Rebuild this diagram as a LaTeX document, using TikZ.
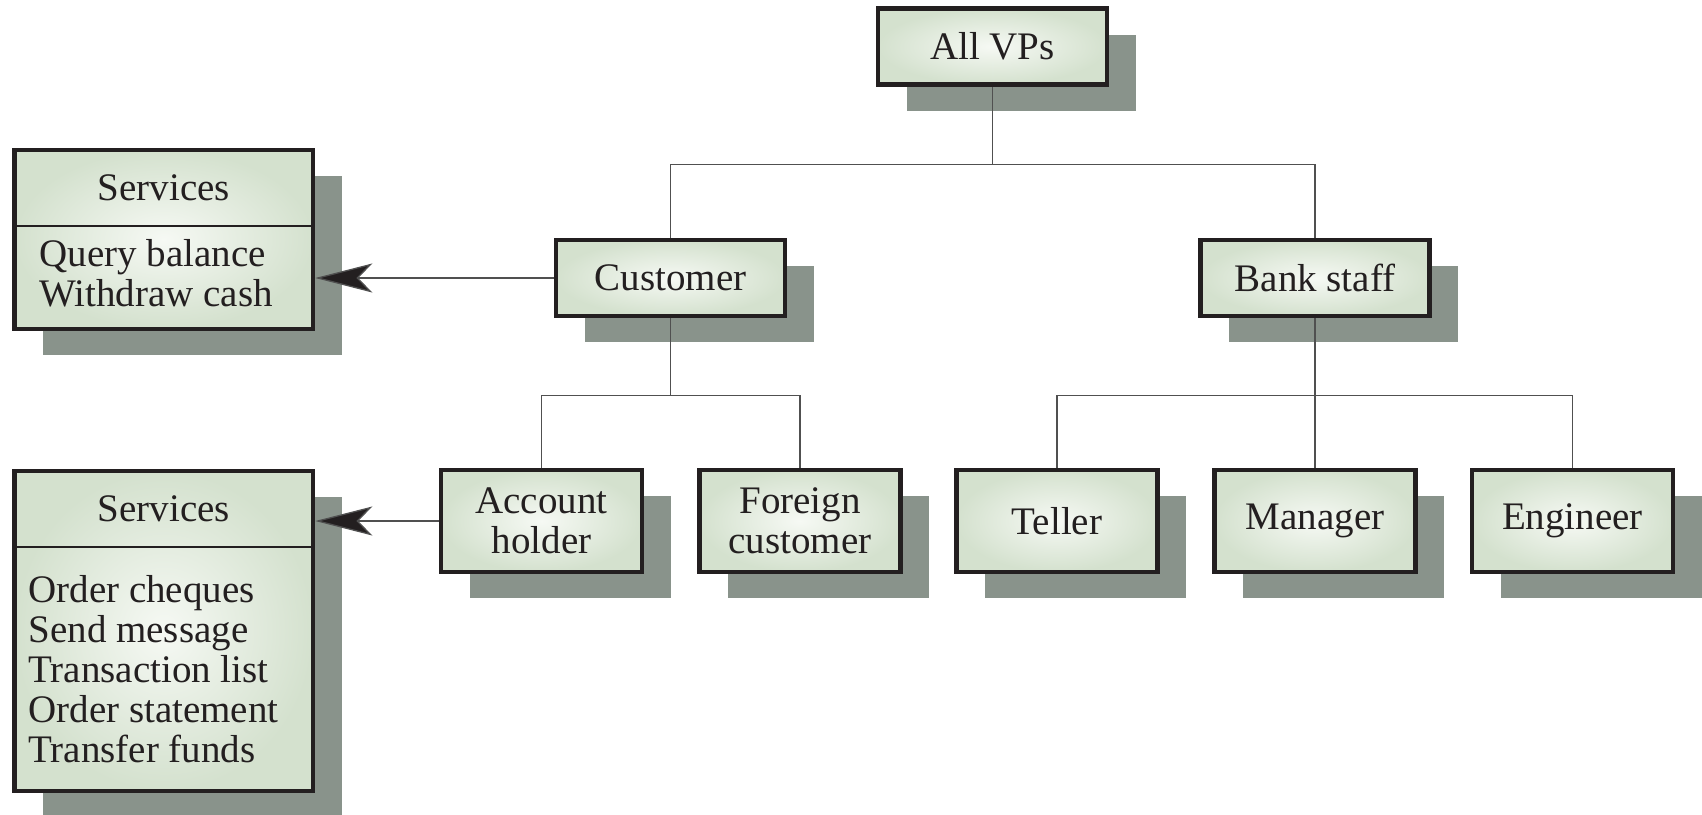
\documentclass[tikz,border=0pt]{standalone}
\usepackage{fontspec}
\setmainfont{Liberation Serif}
\usetikzlibrary{shapes.multipart,shadows,arrows.meta}
\definecolor{boxedge}{RGB}{35,31,32}
\definecolor{boxfill}{RGB}{212,225,206}
\definecolor{boxglow}{RGB}{246,249,244}
\definecolor{shadowgrey}{RGB}{137,147,139}
\definecolor{wire}{RGB}{80,80,80}

\begin{document}
\begin{tikzpicture}[x=1pt,y=-1pt,
  every node/.style={font=\fontsize{39}{40}\selectfont, text=boxedge},
  vp/.style={rectangle, draw=boxedge, line width=4.5pt, inner color=boxglow, outer color=boxfill,
    drop shadow={shadow xshift=28.5pt, shadow yshift=-26pt, fill=shadowgrey, opacity=1}},
  vpwide/.style={vp, align=center, minimum width=229pt, minimum height=76pt},
  vpleaf/.style={vp, align=center, minimum width=201pt, minimum height=102pt},
  svcbox/.style={vp, rectangle split, rectangle split parts=2, rectangle split draw splits=false,
    inner sep=0pt, anchor=north west},
  link/.style={draw=wire, line width=1.3pt},
  svcarrow/.style={link, -{Stealth[length=57pt, width=29pt, inset=14pt, fill=boxedge]}}]
\useasboundingbox (0,0) rectangle (1702,814);

% view points
\node[vpwide] (allvps) at (992.5,46.5) {All VPs};
\node[vpwide] (customer) at (670.5,278) {Customer};
\node[vpwide] (bankstaff) at (1315,278) {Bank staff};
\node[vpleaf] (acct) at (541.5,521) {Account\\holder};
\node[vpleaf] (foreign) at (800,521) {Foreign\\customer};
\node[vpleaf] (teller) at (1057,521) {Teller};
\node[vpleaf] (manager) at (1315,521) {Manager};
\node[vpleaf] (engineer) at (1572.5,521) {Engineer};

% service lists
\node[svcbox] (svca) at (12.25,147.5)
  {\parbox[c][71.5pt][c]{298.5pt}{\centering Services}%
   \nodepart{two}\parbox[c][98.5pt][c]{298.5pt}{\raggedright\leftskip=25pt
   Query balance\\Withdraw cash\par\vspace*{8pt}}};
\draw[line width=2.2pt, boxedge] (svca.text split west) -- (svca.text split east);
\node[svcbox] (svcb) at (12.25,468.5)
  {\parbox[c][71.5pt][c]{298.5pt}{\centering Services}%
   \nodepart{two}\parbox[c][239.5pt][c]{298.5pt}{\raggedright\leftskip=14pt
   Order cheques\\Send message\\Transaction list\\Order statement\\Transfer funds}};
\draw[line width=2.2pt, boxedge] (svcb.text split west) -- (svcb.text split east);

% hierarchy
\draw[link] (allvps.south) -- ++(0,77.5) -| (customer.north);
\draw[link] (allvps.south) -- ++(0,77.5) -| (bankstaff.north);
\draw[link] (customer.south) -- ++(0,77) -| (acct.north);
\draw[link] (customer.south) -- ++(0,77) -| (foreign.north);
\draw[link] (bankstaff.south) -- (manager.north);
\draw[link] (bankstaff.south) -- ++(0,77) -| (teller.north);
\draw[link] (bankstaff.south) -- ++(0,77) -| (engineer.north);

% services offered
\draw[svcarrow] (customer.west) -- (customer.west -| svca.east);
\draw[svcarrow] (acct.west) -- (acct.west -| svcb.east);
\end{tikzpicture}
\end{document}
